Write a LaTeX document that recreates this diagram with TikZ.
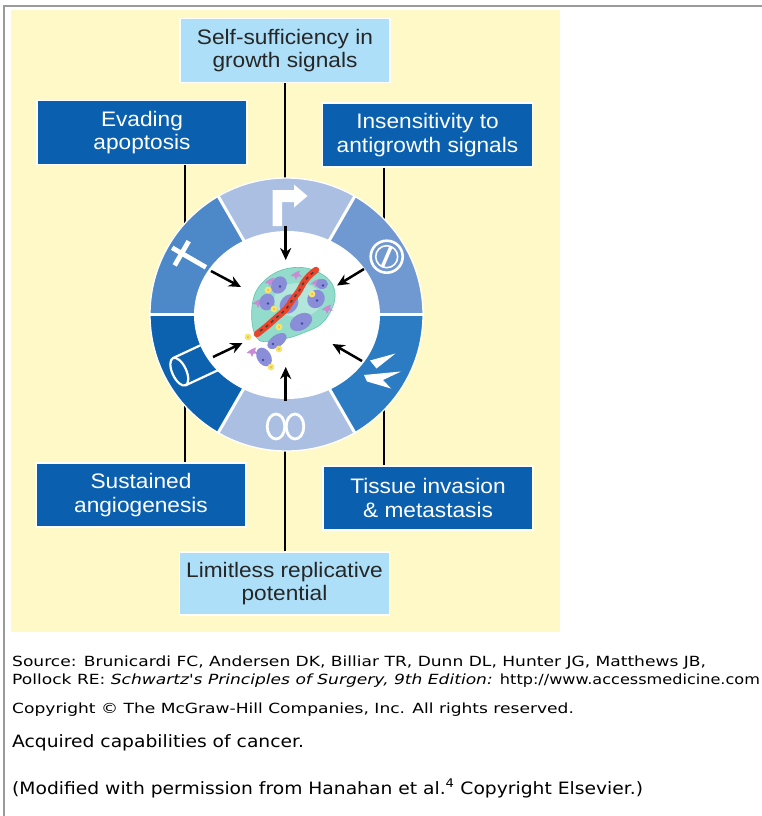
\documentclass[tikz,border=0pt]{standalone}
\usepackage{fontspec}
\setmainfont{Liberation Sans}
\newfontfamily\boxfont[FakeStretch=1.08]{Liberation Sans}
\newfontfamily\notefont[FakeStretch=1.22]{DejaVu Sans}
\newfontfamily\linkfont[FakeStretch=1.15]{DejaVu Sans}
\newfontfamily\capfont[FakeStretch=1.1]{DejaVu Sans}
\usetikzlibrary{arrows.meta}

\definecolor{paper}{HTML}{FEF9C6}
\definecolor{lightcap}{HTML}{ADE0F8}
\definecolor{darkcap}{HTML}{0A60AE}
\definecolor{segpale}{HTML}{ABBFE3}
\definecolor{segevade}{HTML}{4D88C8}
\definecolor{seginsens}{HTML}{7199D1}
\definecolor{segangio}{HTML}{0D62B0}
\definecolor{seginvade}{HTML}{2B7CC2}
\definecolor{tumorfill}{HTML}{93DCCB}
\definecolor{tumoredge}{HTML}{62C4AE}
\definecolor{cellpurple}{HTML}{8A8ED8}
\definecolor{cellnucleus}{HTML}{3F48A8}
\definecolor{cellpink}{HTML}{C98BD6}
\definecolor{vessel}{HTML}{E8452C}
\definecolor{spot}{HTML}{F3E66C}
\definecolor{framegray}{HTML}{9A9A9A}

\tikzset{
  capbox/.style={draw=white, line width=1.2pt, minimum width=210pt,
    minimum height=64pt, align=center, inner sep=0pt,
    font=\boxfont\fontsize{21}{23.5}\selectfont},
  palebox/.style={capbox, fill=lightcap, text=black!85},
  darkbox/.style={capbox, fill=darkcap, text=white},
  link/.style={line width=2pt, black},
  inarrow/.style={line width=2.5pt, black, -{Stealth[length=12pt,width=11pt]}},
  glyph/.style={white, line width=2.8pt},
  notetext/.style={font=\notefont\fontsize{14}{16}\selectfont, inner sep=0pt, anchor=base west},
  captext/.style={font=\capfont\fontsize{17}{19}\selectfont, inner sep=0pt, anchor=base west},
  cell/.style={fill=cellpurple},
  nucleus/.style={fill=cellnucleus},
}

\begin{document}
\begin{tikzpicture}[x=1pt, y=-1pt]
\useasboundingbox (0,0) rectangle (762,816);
\fill[white] (0,0) rectangle (762,816);
% page frame
\draw[framegray, line width=2pt] (4,816) -- (4,6) -- (762,6);
% figure panel
\fill[paper] (11,10) rectangle (560,632);

% capability boxes
\node[palebox] (selfsuff) at (285,50.5) {Self-sufficiency in\\growth signals};
\node[darkbox] (evading) at (142,132.5) {Evading\\apoptosis};
\node[darkbox] (insens) at (427.5,135) {Insensitivity to\\antigrowth signals};
\node[darkbox] (sustained) at (141,495) {Sustained\\angiogenesis};
\node[darkbox] (invasion) at (428,498) {Tissue invasion\\\& metastasis};
\node[palebox, minimum height=63pt] (limitless) at (284.5,583.5) {Limitless replicative\\potential};

% the wheel
\node[circle, minimum size=273pt, inner sep=0pt] (wheel) at (286.5,314.5) {};
\coordinate (xL) at (185,0);
\coordinate (xR) at (383.5,0);

% connectors from the boxes to the wheel
\draw[link] (selfsuff.south) -- (selfsuff.south |- wheel.center);
\draw[link] (evading.south -| xL) -- (xL |- wheel.center);
\draw[link] (insens.south -| xR) -- (xR |- wheel.center);
\draw[link] (sustained.north -| xL) -- (xL |- wheel.center);
\draw[link] (invasion.north -| xR) -- (xR |- wheel.center);
\draw[link] (limitless.north) -- (limitless.north |- wheel.center);

% ring sectors (y axis points down, so angles are negated)
\foreach \a/\b/\c in {60/120/segpale, 120/180/segevade, 180/240/segangio,
                      240/300/segpale, 300/360/seginvade, 0/60/seginsens}{
  \fill[\c] (wheel.center) -- ++(-\a:136.5) arc[start angle=-\a, end angle=-\b, radius=136.5] -- cycle;
}
\draw[white, line width=1.3pt] (wheel.center) circle[radius=136.5];
\foreach \a in {0,60,...,300}{
  \draw[white, line width=3pt] (wheel.center) -- ++(-\a:137);
}

% icon: bent arrow
\fill[white] (272.5,226) -- (272.5,190) -- (294,190) -- (294,184.5) -- (307.5,196) -- (294,207.5)
  -- (294,202) -- (282,202) -- (282,226) -- cycle;
% icon: cross, its long arm towards the centre
\begin{scope}[shift={(181.7,253.3)}, rotate=-30]
  \fill[white] (-11,-2.4) rectangle (28,2.4);
  \fill[white] (-2.4,-14) rectangle (2.4,14);
\end{scope}
% icon: barred circle
\begin{scope}[shift={(386.7,256.7)}]
  \draw[white, line width=2.6pt] (0,0) circle[radius=16];
  \draw[white, line width=1.6pt] (0,0) circle[radius=11];
  \draw[white, line width=3.4pt] (-4.3,10) -- (4.3,-10);
\end{scope}
% icon: tube pointing into the centre
\begin{scope}[shift={(179.3,371.7)}, rotate=25]
  \draw[glyph, line width=2.2pt] (0,-15) -- (60,-15) (0,15) -- (60,15);
  \fill[segangio] (0,0) ellipse[x radius=7, y radius=15];
  \draw[glyph, line width=2.2pt] (0,0) ellipse[x radius=7, y radius=15];
\end{scope}
% icon: torn, spiked edge
\fill[white] (370,360.5) -- (395.5,353.5) -- (376.5,368.5) -- cycle;
\fill[white] (364,375) -- (401,371.5) -- (383,380) -- (391,388.5) -- (367,381.5) -- cycle;
% icon: infinity
\draw[glyph] (276,426.5) ellipse[x radius=8.8, y radius=12.5];
\draw[glyph] (295,426.5) ellipse[x radius=8.8, y radius=12.5];

% inner field
\fill[white] (287,315) ellipse[x radius=93, y radius=84];

% inward arrows
\coordinate (tT) at (285.7,226);  \coordinate (hT) at (285.7,260);
\coordinate (tUL) at (211,271);   \coordinate (hUL) at (241,287);
\coordinate (tUR) at (364,269);   \coordinate (hUR) at (337,285.5);
\coordinate (tLL) at (213,357);   \coordinate (hLL) at (242.5,343);
\coordinate (tLR) at (362,361);   \coordinate (hLR) at (332.5,344);
\coordinate (tB) at (285.7,401);  \coordinate (hB) at (285.7,367);
\foreach \t/\h in {tT/hT, tUL/hUL, tUR/hUR, tLL/hLL, tLR/hLR, tB/hB}{
  \draw[inarrow] (\t) -- (\h);
}

% tumour mass
\fill[tumorfill, draw=tumoredge, line width=0.6pt] plot[smooth cycle, tension=0.7] coordinates
  {(252,307) (263,282) (290,268) (320,273) (335,293) (325,320) (303,333) (277,340) (257,338)};
\fill[white, opacity=0.3] (298,300) ellipse[x radius=24, y radius=17];
% stromal cells
\foreach \x/\y in {252/349, 316/280, 258/300, 306/317, 327/306, 270/279, 296/272}{
  \fill[cellpink] (\x,\y) -- ++(4,-1.5) -- ++(-1,3.5) -- ++(3,2.5) -- ++(-4.5,0) -- ++(-1.5,3.5)
    -- ++(-1.5,-3.5) -- ++(-4,-0.5) -- ++(3,-2.5) -- cycle;
}
% tumour cells
\foreach \x/\y/\rx/\ry/\r in {279/285/9/7.5/60, 267/302/8.5/7.5/70, 289/304/10.5/8.5/50,
                             316/299/9.5/8.5/60, 301/322/12/8/30, 322/284/6/5/0}{
  \fill[cell, rotate around={\r:(\x,\y)}] (\x,\y) ellipse[x radius=\rx, y radius=\ry];
  \fill[nucleus] (\x+1,\y+1.5) circle[radius=1.4];
}
% blood vessel
\draw[vessel, line width=6.5pt, line cap=round] plot[smooth] coordinates
  {(257,334) (267,326) (276,318) (286,309) (293,299) (299,291) (304,282) (310,275) (316,270)};
\draw[black!75, line width=1.5pt, dash pattern=on 3pt off 4pt] plot[smooth] coordinates
  {(260,331) (267,326) (276,318) (286,309) (293,299) (299,291) (304,282) (310,275) (314,272)};
% escaping cells
\fill[cell, rotate around={35:(277,341)}] (277,341) ellipse[x radius=11, y radius=6];
\fill[nucleus] (273,344) circle[radius=1.3];
\fill[cell, rotate around={30:(264,357)}] (264,357) ellipse[x radius=7, y radius=10];
\fill[nucleus] (263,360) circle[radius=1.3];
% signalling factors
\foreach \x/\y in {268/290, 274/309, 279/327, 248/337, 279/349, 271/367, 312/294}{
  \fill[spot] (\x,\y) circle[radius=3.4];
  \fill[orange!70] (\x,\y) circle[radius=1];
}

% source and caption
\node[notetext] (src1) at (12,666) {Source: Brunicardi FC, Andersen DK, Billiar TR, Dunn DL, Hunter JG, Matthews JB,};
\node[notetext] (src2) at (12,684) {Pollock RE: \textit{Schwartz's Principles of Surgery, 9th Edition:} {\linkfont http://www.accessmedicine.com}};
\node[notetext] (copy) at (12,713) {Copyright © The McGraw-Hill Companies, Inc. All rights reserved.};
\node[captext] (cap1) at (12,747) {Acquired capabilities of cancer.};
\node[captext] (cap2) at (12,794) {(Modified with permission from Hanahan et al.\textsuperscript{4} Copyright Elsevier.)};
\end{tikzpicture}
\end{document}
